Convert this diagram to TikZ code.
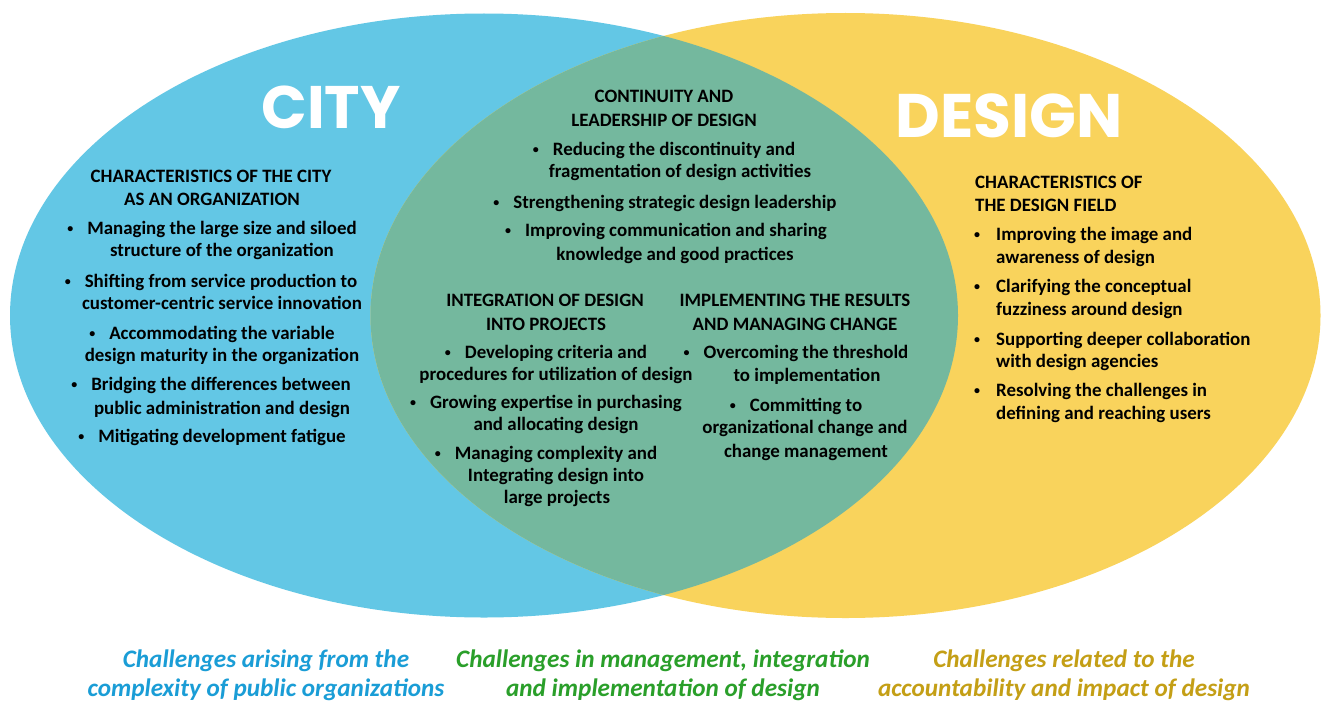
\documentclass[tikz,border=0pt]{standalone}
\usepackage{fontspec}
\setmainfont{Carlito}
\newfontfamily\titlefont{Poppins}
\definecolor{cityblue}{HTML}{63C7E5}
\definecolor{designyellow}{HTML}{F9D35C}
\definecolor{overlapgreen}{HTML}{74B89E}
\definecolor{capblue}{HTML}{1A9DD6}
\definecolor{capgreen}{HTML}{2A9F2A}
\definecolor{capgold}{HTML}{C49F16}
% one text line: name, x, baseline y, text
\newcommand\tline[4]{\node[txt,anchor=base] (#1) at (#2,#3) {#4};}
\newcommand\lline[4]{\node[txt,anchor=base west] (#1) at (#2,#3) {#4};}
\newcommand\dotmark{\raisebox{1.2pt}{\fontsize{12}{12}\selectfont\textbullet}}
\newcommand\bul{\dotmark\hspace{14pt}}
\newcommand\rbul{\makebox[21pt][l]{\hspace{-1pt}\dotmark}}
\begin{document}
\begin{tikzpicture}[x=1pt,y=-1pt,
  txt/.style={inner sep=0pt,font=\fontsize{18.9}{22}\selectfont\bfseries,text=black},
  bigtitle/.style={inner sep=0pt,anchor=base,text=white,font=\fontsize{60}{60}\selectfont\titlefont\bfseries},
  caption/.style={inner sep=0pt,anchor=base,font=\fontsize{25.2}{29}\selectfont\bfseries\itshape}]
\useasboundingbox (0,0) rectangle (1322,701);
\fill[white] (0,0) rectangle (1322,701);
% the two sets and their overlap
\fill[cityblue] (484,315.5) ellipse [x radius=474, y radius=302];
\fill[designyellow] (845.5,315.5) ellipse [x radius=475, y radius=302.5];
\begin{scope}
  \clip (484,315.5) ellipse [x radius=474, y radius=302];
  \fill[overlapgreen] (845.5,315.5) ellipse [x radius=475, y radius=302.5];
\end{scope}
% set titles
\node[bigtitle] (city) at (331,128) {CITY};
\node[bigtitle,font=\fontsize{61.5}{62}\selectfont\titlefont\bfseries] (design) at (1009,137) {DESIGN};
% city block
\tline{l1}{211}{182}{CHARACTERISTICS OF THE CITY}
\tline{l2}{212}{205}{AS AN ORGANIZATION}
\tline{l3}{212}{234}{\bul Managing the large size and siloed}
\tline{l4}{222}{256}{structure of the organization}
\tline{l5}{211}{287}{\bul Shifting from service production to}
\tline{l6}{222}{309}{customer-centric service innovation}
\tline{l7}{212}{339}{\bul Accommodating the variable}
\tline{l8}{222}{361}{design maturity in the organization}
\tline{l9}{211}{390}{\bul Bridging the differences between}
\tline{l10}{222}{414}{public administration and design}
\tline{l11}{212}{442}{\bul Mitigating development fatigue}
% continuity block
\tline{c1}{664}{102}{CONTINUITY AND}
\tline{c2}{664}{126}{LEADERSHIP OF DESIGN}
\tline{c3}{664}{155}{\bul Reducing the discontinuity and}
\tline{c4}{680}{177}{fragmentation of design activities}
\tline{c5}{665}{208}{\bul Strengthening strategic design leadership}
\tline{c6}{666}{236}{\bul Improving communication and sharing}
\tline{c7}{675}{260}{knowledge and good practices}
% integration block
\tline{i1}{545}{306}{INTEGRATION OF DESIGN}
\tline{i2}{546}{330}{INTO PROJECTS}
\tline{i3}{546}{358}{\bul Developing criteria and}
\tline{i4}{556}{380}{procedures for utilization of design}
\tline{i5}{546}{408}{\bul Growing expertise in purchasing}
\tline{i6}{556}{430}{and allocating design}
\tline{i7}{546}{459}{\bul Managing complexity and}
\tline{i8}{556}{481}{Integrating design into}
\tline{i9}{557}{503}{large projects}
% implementation block
\tline{m1}{795}{306}{IMPLEMENTING THE RESULTS}
\tline{m2}{795}{330}{AND MANAGING CHANGE}
\tline{m3}{796}{358}{\bul Overcoming the threshold}
\tline{m4}{807}{381}{to implementation}
\tline{m5}{796}{411}{\bul Committing to}
\tline{m6}{805}{433}{organizational change and}
\tline{m7}{806}{457}{change management}
% design field block
\lline{d1}{975}{188}{CHARACTERISTICS OF}
\lline{d2}{975}{211}{THE DESIGN FIELD}
\lline{d3}{975}{240}{\rbul Improving the image and}
\lline{d4}{996}{263}{awareness of design}
\lline{d5}{975}{292}{\rbul Clarifying the conceptual}
\lline{d6}{996}{315}{fuzziness around design}
\lline{d7}{975}{345}{\rbul Supporting deeper collaboration}
\lline{d8}{996}{367}{with design agencies}
\lline{d9}{975}{396}{\rbul Resolving the challenges in}
\lline{d10}{996}{419}{defining and reaching users}
% captions below
\node[caption,text=capblue] (cb1) at (266,667) {Challenges arising from the};
\node[caption,text=capblue] (cb2) at (266,696) {complexity of public organizations};
\node[caption,text=capgreen] (cg1) at (663,667) {Challenges in management, integration};
\node[caption,text=capgreen] (cg2) at (663,696) {and implementation of design};
\node[caption,text=capgold] (cy1) at (1064,667) {Challenges related to the};
\node[caption,text=capgold] (cy2) at (1064,696) {accountability and impact of design};
\end{tikzpicture}
\end{document}
